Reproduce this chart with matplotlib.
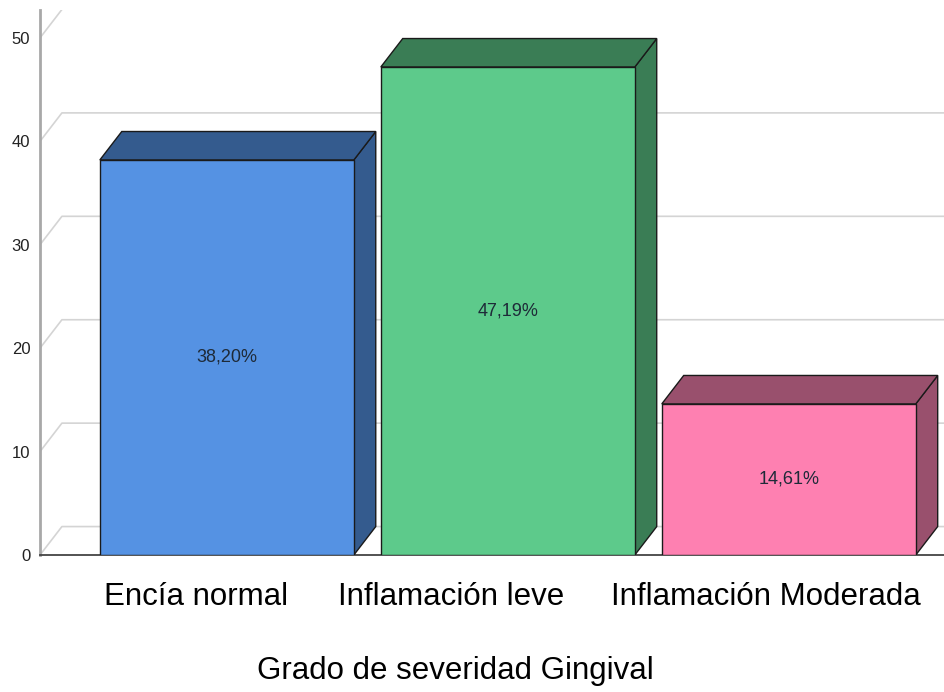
import matplotlib.pyplot as plt
from matplotlib.patches import Polygon

plt.rcParams['font.family'] = ['Liberation Sans', 'DejaVu Sans']

# datos
categorias = ['Encía normal', 'Inflamación leve', 'Inflamación Moderada']
porcentajes = [38.20, 47.19, 14.61]
etiquetas = ['38,20%', '47,19%', '14,61%']
titulo_x = 'Grado de severidad Gingival'
ticks_y = [0, 10, 20, 30, 40, 50]

# colores (cara frontal, caras de sombra)
col_frente = ['#5592e3', '#5dca8b', '#fe80b1']
col_sombra = ['#345b8e', '#3a7d55', '#99506d']

fig = plt.figure(figsize=(9.45, 6.92), dpi=100)
ax = fig.add_axes([40 / 945, 137 / 692, 905 / 945, 545 / 692])

ancho = 0.904
dx, dy = 0.078, 2.75          # profundidad del efecto 3D
xmin, xmax = -0.665, 2.556
ytop = 52.7
ax.set_xlim(xmin, xmax)
ax.set_ylim(0, ytop)

# rejilla de la pared del fondo
for v in ticks_y:
    if v + dy < ytop:
        ax.plot([xmin, xmin + dx, xmax], [v, v + dy, v + dy], color='#d4d4d4',
                lw=1.2, zorder=1)
    else:
        ax.plot([xmin, xmin + dx], [v, v + dy], color='#d4d4d4', lw=1.2, zorder=1)

# barras 3D
for i, (h, cf, cs) in enumerate(zip(porcentajes, col_frente, col_sombra)):
    x0 = i - ancho / 2
    x1 = i + ancho / 2
    frente = Polygon([(x0, 0), (x1, 0), (x1, h), (x0, h)], closed=True,
                     facecolor=cf, edgecolor='#1a1a1a', lw=1, zorder=3)
    arriba = Polygon([(x0, h), (x1, h), (x1 + dx, h + dy), (x0 + dx, h + dy)],
                     closed=True, facecolor=cs, edgecolor='#1a1a1a', lw=1, zorder=3)
    lado = Polygon([(x1, 0), (x1 + dx, dy), (x1 + dx, h + dy), (x1, h)],
                   closed=True, facecolor=cs, edgecolor='#1a1a1a', lw=1, zorder=3)
    for p in (lado, arriba, frente):
        ax.add_patch(p)
    ax.text(i, h / 2, etiquetas[i], ha='center', va='center', fontsize=13,
            color='#1e2a38', zorder=4)

# etiquetas de categoría
desplaz = [-0.11, -0.2, -0.08]
for i, (c, d) in enumerate(zip(categorias, desplaz)):
    ax.text(i + d, -4.05, c, ha='center', va='center', fontsize=22.5,
            color='black', clip_on=False)
fig.text(455 / 945, 1 - 671 / 692, titulo_x, ha='center', va='center',
         fontsize=22.5, color='black')

ax.set_xticks([])
ax.set_yticks(ticks_y)
ax.set_yticklabels([str(t) for t in ticks_y], fontsize=12, color='#222222')
ax.tick_params(axis='y', length=0, pad=7)

for s in ('top', 'right'):
    ax.spines[s].set_visible(False)
ax.spines['left'].set_color('#a8a8a8')
ax.spines['left'].set_linewidth(2)
ax.spines['bottom'].set_color('#444444')
ax.spines['bottom'].set_linewidth(1.3)

fig.savefig('out.png', dpi=100)
